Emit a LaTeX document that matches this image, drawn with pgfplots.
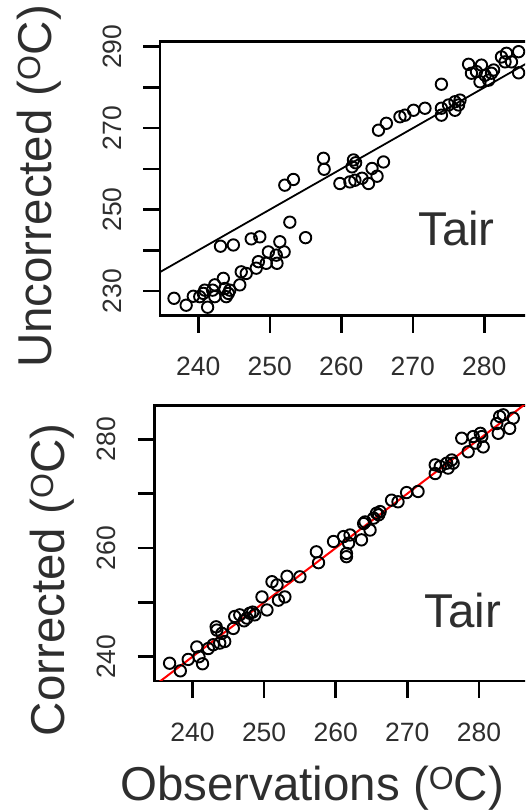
\documentclass[border=0pt]{standalone}
\usepackage{fontspec}
\setmainfont{Liberation Sans}
\usepackage{pgfplots}
\pgfplotsset{compat=1.18}
\definecolor{txt}{gray}{0.18}
\newcommand\supO{\raisebox{11pt}{\fontsize{32}{32}\selectfont O}}

\pgfplotsset{
  panel/.style={
    scale only axis,
    axis line style={line width=2.8pt},
    tick align=outside,
    tick pos=left,
    tick style={line width=2.6pt, black},
    major tick length=17pt,
    ticklabel style={font=\fontsize{26.5}{30}\selectfont, text=txt},
    /pgf/number format/assume math mode=true,
    xticklabel style={anchor=base},
    xticklabel shift=43pt,
    yticklabel style={rotate=90, anchor=base},
    yticklabel shift=22pt,
    xtick={240,250,...,280},
  },
  pts/.style={only marks, mark=o, mark size=5.7pt,
    mark options={line width=1.9pt, black}},
}

\begin{document}
\begin{tikzpicture}
\useasboundingbox (0,0) rectangle (525pt,811pt);
\clip (0,0) rectangle (525pt,811pt);

% top: uncorrected
\begin{axis}[panel, at={(160pt,495.2pt)}, anchor=south west,
  width=395.8pt, height=274.3pt,
  xmin=234.64, xmax=290, ymin=223.9, ymax=291.3,
  ytick={230,240,...,290}, yticklabels={230,,250,,270,,290}]
\addplot[black, line width=1.8pt] coordinates {(220,220) (300,300)};
\addplot[pts] coordinates {
(277.8,285.7) (278.2,283.5) (278.9,283.9) (279.6,285.5) (279.4,281.4)
(280.1,283.0) (280.6,281.8) (281.0,283.5) (281.3,284.3) (282.4,287.5)
(282.9,286.3) (283.1,288.4) (283.8,286.3) (284.8,288.8) (284.8,283.6)
(274.0,280.8) (274.0,274.9) (274.0,273.2) (275.0,275.7) (275.9,276.5)
(276.4,275.7) (276.6,276.9) (275.9,274.4) (271.7,274.9) (270.1,274.4)
(268.9,273.2) (268.2,272.8) (266.3,271.2) (265.2,269.5)
(265.9,261.7) (264.3,260.1) (261.7,262.2) (261.5,260.5) (262.0,261.5)
(257.5,262.6) (257.6,259.9) (253.3,257.4) (252.1,256.0)
(259.8,256.4) (261.2,256.8) (261.9,257.2) (262.9,257.7) (263.8,256.4) (265.0,258.2)
(252.8,246.9) (255.0,243.1) (243.1,241.0) (244.9,241.3) (247.4,242.8)
(248.6,243.3) (251.4,242.1) (249.8,239.6) (252.0,239.6) (250.9,238.8)
(251.0,236.8) (249.5,236.8) (248.4,237.2) (248.1,235.6) (246.7,234.3)
(246.0,234.7) (245.8,231.5) (243.5,233.1) (242.3,231.5) (243.7,230.6)
(244.2,229.4) (243.9,228.6) (242.3,228.6) (240.7,229.4) (240.2,228.6)
(239.3,228.7) (241.3,226.0) (238.3,226.5) (236.6,228.2) (240.9,230.2)
(242.0,230.2) (244.4,230.2)
};
\end{axis}

% bottom: corrected
\begin{axis}[panel, at={(154.7pt,130pt)}, anchor=south west,
  width=395.8pt, height=275.5pt,
  xmin=234.72, xmax=290, ymin=235.53, ymax=286.22,
  ytick={240,250,...,280}, yticklabels={240,,260,,280}]
\addplot[red, line width=2pt] coordinates {(220,220) (300,300)};
\addplot[pts] coordinates {
(236.8,238.8) (238.3,237.4) (239.4,239.5) (240.6,241.8) (240.9,240.0)
(241.4,238.7) (242.2,241.5) (242.9,242.2) (243.3,245.5) (243.4,244.9)
(243.8,242.5) (244.5,242.8) (244.1,244.3) (245.7,245.2) (245.9,247.4)
(246.6,247.7) (247.6,247.1) (248.0,248.0) (248.7,247.7) (247.2,246.6)
(248.4,248.2) (249.7,251.0) (250.4,248.6) (251.1,253.8) (251.8,253.2)
(252.0,250.4) (252.9,251.0) (253.2,254.8) (255.0,254.7) (257.3,259.3)
(257.6,257.3) (259.7,261.2) (261.1,262.1) (261.5,259.0) (261.5,258.4)
(262.0,262.4) (261.8,260.9) (263.6,261.5) (263.9,264.5) (264.8,263.3)
(264.1,264.8) (265.7,266.4) (265.3,265.5) (266.0,266.1) (266.2,266.7)
(267.8,268.8) (268.7,268.5) (269.9,270.2) (271.5,270.4) (273.9,275.3)
(273.9,273.7) (274.6,275.0) (275.5,275.6) (275.7,274.7) (276.2,276.2)
(276.4,275.6) (277.6,280.2) (278.5,277.7) (279.2,280.5) (279.5,279.3)
(280.2,281.1) (280.6,278.6) (280.4,280.5) (282.5,282.9) (282.7,281.1)
(282.9,284.2) (283.4,284.5) (284.3,282.0) (284.8,283.9)
};
\end{axis}

\begin{scope}[every node/.style={text=txt, inner sep=0pt,
    font=\fontsize{47.5}{50}\selectfont}]
\node[rotate=90, anchor=base] at (51.7pt,624.5pt) {Uncorrected (\supO C)};
\node[rotate=90, anchor=base] at (64.5pt,231pt) {Corrected (\supO C)};
\node[anchor=base] at (312pt,10pt) {Observations (\supO C)};
\node[anchor=base] at (456.5pt,565pt) {Tair};
\node[anchor=base] at (463pt,183pt) {Tair};
\end{scope}
\end{tikzpicture}
\end{document}
